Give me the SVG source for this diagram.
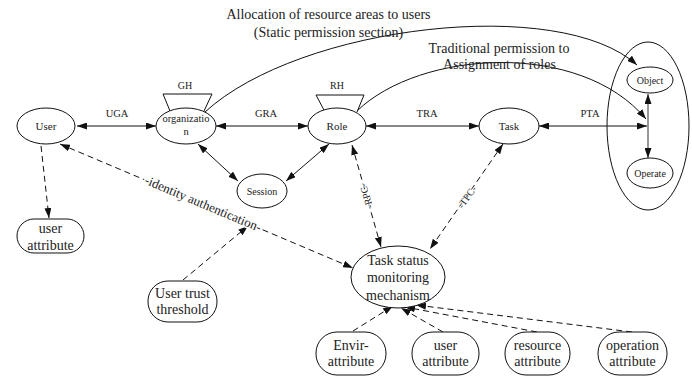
<svg xmlns="http://www.w3.org/2000/svg" width="692" height="378" viewBox="0 0 692 378">
<style>
text{font-family:"Liberation Serif","Times New Roman",serif;fill:#222;text-anchor:middle}
.n{fill:#fff;stroke:#111;stroke-width:1}
.c{fill:none;stroke:#111;stroke-width:1}
.d{fill:none;stroke:#111;stroke-width:1;stroke-dasharray:6,4}
.h{stroke:#fff;stroke-width:3;paint-order:stroke;stroke-linejoin:round}
.h2{stroke:#fff;stroke-width:1.5;paint-order:stroke;stroke-linejoin:round}
.s{font-size:11px}
.xs{font-size:10px}
.m{font-size:14px}
.lab{font-size:10.5px}
.big{font-size:14px}
</style>
<defs>
<marker id="a" viewBox="0 0 10 7" refX="10" refY="3.5" markerWidth="10" markerHeight="7" markerUnits="userSpaceOnUse" orient="auto-start-reverse">
<path d="M0,0 L10,3.5 L0,7 z" fill="#111"/>
</marker>
</defs>
<rect width="692" height="378" fill="#fff"/>
<g id="connectors">
<line class="c" x1="77" y1="126" x2="156" y2="126" marker-start="url(#a)" marker-end="url(#a)"/>
<line class="c" x1="216" y1="126" x2="308" y2="126" marker-start="url(#a)" marker-end="url(#a)"/>
<line class="c" x1="366" y1="126" x2="479" y2="126" marker-start="url(#a)" marker-end="url(#a)"/>
<line class="c" x1="539" y1="126" x2="647" y2="126" marker-start="url(#a)" marker-end="url(#a)"/>
<line class="c" x1="198" y1="144" x2="238" y2="181" marker-start="url(#a)" marker-end="url(#a)"/>
<line class="c" x1="329" y1="144" x2="286" y2="181" marker-start="url(#a)" marker-end="url(#a)"/>
<line x1="648" y1="94" x2="648" y2="158" stroke="#777" stroke-width="1.5" marker-start="url(#a)" marker-end="url(#a)"/>
<path class="c" d="M205,112 C300,25 560,-5 637,65" marker-end="url(#a)"/>
<path class="c" d="M357,111 C420,50 580,40 646,119" marker-end="url(#a)"/>
<line class="d" x1="41" y1="146" x2="49" y2="218" marker-end="url(#a)"/>
<line class="d" x1="60" y1="144" x2="353" y2="268" marker-start="url(#a)" marker-end="url(#a)"/>
<line class="d" x1="183" y1="280" x2="248" y2="226" marker-end="url(#a)"/>
<line class="d" x1="352" y1="145" x2="381" y2="247" marker-start="url(#a)" marker-end="url(#a)"/>
<line class="d" x1="503" y1="144" x2="430" y2="249" marker-start="url(#a)" marker-end="url(#a)"/>
<line class="d" x1="353" y1="331" x2="393" y2="306" marker-end="url(#a)"/>
<line class="d" x1="443" y1="332" x2="401" y2="308" marker-end="url(#a)"/>
<line class="d" x1="537" y1="332" x2="405" y2="307" marker-end="url(#a)"/>
<line class="d" x1="632" y1="332" x2="416" y2="305" marker-end="url(#a)"/>
<text class="lab" x="117" y="117">UGA</text>
<text class="lab" x="266" y="117">GRA</text>
<text class="lab" x="427" y="117">TRA</text>
<text class="lab" x="590" y="117">PTA</text>
<text class="big" x="328.5" y="19">Allocation of resource areas to users</text>
<text class="big" x="328.5" y="37">(Static permission section)</text>
<text class="big" x="499" y="53">Traditional permission to</text>
<text class="big" x="499.5" y="69">Assignment of roles</text>
<text class="h" font-size="13" x="203" y="208" transform="rotate(22.9 203 204)">-identity authentication-</text>
<text class="xs h2" x="366" y="199.5" transform="rotate(-106 366 196)">-RPC-</text>
<text class="xs h2" x="467" y="200.5" transform="rotate(-55 467 197)">-TPC-</text>
</g>
<g id="user"><ellipse class="n" cx="46" cy="126" rx="29" ry="18"/><text class="s" x="46" y="130">User</text></g>
<g id="organization">
<polyline class="c" points="170,111 163,94 212,94 204,111"/>
<text class="xs" x="185" y="89">GH</text>
<ellipse class="n" cx="186" cy="126" rx="30" ry="18"/>
<text class="lab" x="186" y="122">organizatio</text><text class="lab" x="186" y="135">n</text></g>
<g id="role">
<polyline class="c" points="325,112 316,95 364,95 357,112"/>
<text class="xs" x="337" y="89">RH</text>
<ellipse class="n" cx="337" cy="126" rx="29" ry="18"/><text class="s" x="337" y="130">Role</text></g>
<g id="session"><ellipse class="n" cx="262" cy="191" rx="25" ry="17"/><text class="xs" x="262" y="194.5">Session</text></g>
<g id="task"><ellipse class="n" cx="509" cy="126" rx="30" ry="18"/><text class="s" x="509" y="130">Task</text></g>
<g id="resource-group"><ellipse class="c" cx="648" cy="126" rx="41" ry="84"/></g>
<g id="object"><ellipse class="n" cx="650" cy="80" rx="23" ry="13"/><text class="xs" x="650" y="83.5">Object</text></g>
<g id="operate"><ellipse class="n" cx="650" cy="173" rx="23" ry="15"/><text class="xs" x="650" y="176.5">Operate</text></g>
<g id="monitor"><ellipse class="n" cx="398" cy="277" rx="47" ry="31"/>
<text class="m" x="398" y="265">Task status</text><text class="m" x="398" y="282">monitoring</text><text class="m" x="398" y="300">mechanism</text></g>
<g id="user-attribute-1"><rect class="n" x="17" y="219" width="67" height="34" rx="17"/>
<text class="m" x="50.5" y="233">user</text><text class="m" x="50.5" y="250">attribute</text></g>
<g id="user-trust"><rect class="n" x="148" y="281" width="69" height="41" rx="20"/>
<text class="m" x="182.5" y="298">User trust</text><text class="m" x="182.5" y="314">threshold</text></g>
<g id="envir-attribute"><rect class="n" x="316" y="332" width="70" height="43" rx="21"/>
<text class="m" x="351" y="350">Envir-</text><text class="m" x="351" y="366">attribute</text></g>
<g id="user-attribute-2"><rect class="n" x="412" y="332" width="67" height="43" rx="21"/>
<text class="m" x="445.5" y="350">user</text><text class="m" x="445.5" y="366">attribute</text></g>
<g id="resource-attribute"><rect class="n" x="505" y="332" width="65" height="43" rx="21"/>
<text class="m" x="537.5" y="350">resource</text><text class="m" x="537.5" y="366">attribute</text></g>
<g id="operation-attribute"><rect class="n" x="598" y="332" width="69" height="43" rx="21"/>
<text class="m" x="632.5" y="350">operation</text><text class="m" x="632.5" y="366">attribute</text></g>
</svg>
